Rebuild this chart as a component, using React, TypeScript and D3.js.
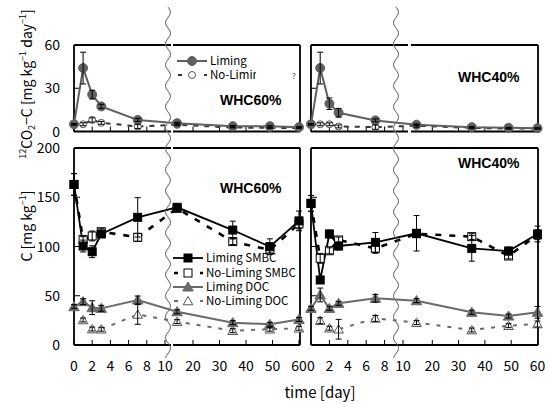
import React from 'react';
import * as d3 from 'd3';

// sampling days
const days = [0, 1, 2, 3, 7, 14, 35, 49, 60];

// 12CO2-C release [mg kg-1 day-1]
const co2Lim60 = [5, 44, 25.6, 17.4, 8, 5.8, 3.7, 3.7, 3];
const co2Lim60Err = [0.5, 11, 3, 1.5, 1, 0.5, 0.5, 0.5, 0.5];
const co2NoLim60 = [5, 5, 8, 6, 3.5, 4.6, 2.8, 2.5, 2.5];
const co2NoLim60Err = [0.5, 1, 1.5, 1, 1.5, 0.5, 0.3, 0.3, 0.3];
const co2Lim40 = [5, 44, 19.3, 13, 7.7, 4.7, 3, 2.6, 2.3];
const co2Lim40Err = [0.5, 11, 4, 3, 1, 0.5, 0.5, 0.3, 0.3];
const co2NoLim40 = [5, 5, 5, 3.5, 3, 4, 2.5, 2, 2];
const co2NoLim40Err = [0.5, 1, 1, 1, 1.5, 1, 0.3, 0.3, 0.3];

// SMBC / DOC [mg kg-1]
const smbcLim60 = [163, 100.5, 94.7, 112.7, 129.6, 139.8, 116.7, 99.8, 126];
const smbcLim60Err = [11, 6, 6, 3, 20, 3, 9, 8, 10];
const smbcNoLim60 = [163, 107, 110.7, 115, 109.3, 138.7, 105, 96.5, 123];
const smbcNoLim60Err = [11, 3, 5, 3, 4, 3, 3, 3, 5];
const docLim60 = [38.9, 44, 37.9, 37.2, 45.7, 33.8, 22.7, 21, 26];
const docLim60Err = [2, 3, 7, 3, 4, 2, 2, 2, 2];
const docNoLim60 = [null, 25.4, 16.2, 16, 31, 23.7, 14.5, 16, 17];
const docNoLim60Err = [0, 2, 2, 2, 10, 2, 2, 2, 2];

const smbcLim40 = [143.8, 66, 112.7, 100.5, 104.2, 113.4, 98.1, 95.4, 112.7];
const smbcLim40Err = [8, 3, 4, 4, 10, 18, 13, 4, 8];
const smbcNoLim40 = [143.8, 88, 95.7, 106.6, 98.1, 113, 110, 90.4, 112];
const smbcNoLim40Err = [8, 5, 3, 3, 5, 3, 3, 3, 5];
const docLim40 = [37.2, 50.8, 37.2, 42.3, 47.4, 45, 33.2, 29.4, 33.2];
const docLim40Err = [2, 7, 2, 2, 4, 2, 2, 2, 6];
const docNoLim40 = [null, 24.7, 17, 16, 27, 22.7, 15.2, 19.6, 21.3];
const docNoLim40Err = [0, 3, 2, 10, 3, 2, 2, 2, 3];

const ticksA = [0, 2, 4, 6, 8, 10];
const ticksB = [20, 30, 40, 50, 60];
const yTicksTop = [0, 30, 60];
const yTicksBottom = [0, 50, 100, 150, 200];

const FONT = '"Noto Sans CJK JP", "DejaVu Sans", sans-serif';
const GRAY = '#5f5f5f';

type Style = {
  marker: 'circle' | 'square' | 'triangle';
  filled: boolean;
  color: string;
  width: number;
  dash?: string;
};

const styles: Record<string, Style> = {
  co2Lim: { marker: 'circle', filled: true, color: GRAY, width: 2 },
  co2NoLim: { marker: 'circle', filled: false, color: '#333', width: 2, dash: '5,6' },
  smbcLim: { marker: 'square', filled: true, color: '#000', width: 1.8 },
  smbcNoLim: { marker: 'square', filled: false, color: '#000', width: 2.6, dash: '6,8' },
  docLim: { marker: 'triangle', filled: true, color: '#6a6a6a', width: 2 },
  docNoLim: { marker: 'triangle', filled: false, color: '#6a6a6a', width: 2, dash: '4,7' },
};

function Marker({ x, y, s }: { x: number; y: number; s: Style }) {
  const fill = s.filled ? s.color : '#fff';
  const stroke = s.filled ? s.color : s.color === '#000' ? '#000' : '#555';
  if (s.marker === 'circle') return <circle cx={x} cy={y} r={s.filled ? 4.5 : 3.5} fill={fill} stroke={stroke} strokeWidth={1} />;
  if (s.marker === 'square') return <rect x={x - 4} y={y - 4} width={8} height={8} fill={fill} stroke={stroke} strokeWidth={1} />;
  const sym = d3.symbol().type(d3.symbolTriangle).size(s.filled ? 48 : 40)();
  return <path d={sym || ''} transform={`translate(${x},${y + 1})`} fill={fill} stroke={stroke} strokeWidth={1} />;
}

type Series = { vals: (number | null)[]; err: number[]; style: Style };

function Panel({ xA, xB, frameA, frameB, yDomain, yRange, yTicks, series, title, titleY, showYLabels, showXLabels, gap, waveX }: any) {
  const sA = d3.scaleLinear().domain([0, 10]).range(xA);
  const sB = d3.scaleLinear().domain([10, 60]).range(xB);
  const x = (d: number) => (d <= 10 ? sA(d) : sB(d));
  const y = d3.scaleLinear().domain(yDomain).range(yRange);
  const top = yRange[1];
  const bottom = yRange[0];
  const line = d3
    .line<[number, number | null]>()
    .defined((d) => d[1] != null)
    .x((d) => x(d[0]))
    .y((d) => y(d[1] as number));

  const wave = d3.line<number>().x((t) => waveX + 2.5 * Math.sin((2 * Math.PI * (t - 7)) / 21)).y((t) => t)(d3.range(7, 359, 1));

  return (
    <g>
      {/* frame */}
      <g stroke="#000" strokeWidth={1.8} fill="none">
        <line x1={frameA[0]} x2={frameA[0]} y1={top} y2={bottom} />
        <line x1={frameB[1]} x2={frameB[1]} y1={top} y2={bottom} />
        <line x1={frameA[0]} x2={gap ? frameA[1] : frameB[1]} y1={top} y2={top} />
        <line x1={frameA[0]} x2={gap ? frameA[1] : frameB[1]} y1={bottom} y2={bottom} />
        {gap && <line x1={frameB[0]} x2={frameB[1]} y1={top} y2={top} />}
        {gap && <line x1={frameB[0]} x2={frameB[1]} y1={bottom} y2={bottom} />}
      </g>
      {/* x ticks */}
      <g stroke="#000" strokeWidth={1}>
        {ticksA.map((t) => <line key={'a' + t} x1={sA(t)} x2={sA(t)} y1={bottom} y2={bottom - 5} />)}
        {ticksB.map((t) => <line key={'b' + t} x1={sB(t)} x2={sB(t)} y1={bottom} y2={bottom - 5} />)}
        {yTicks.map((t: number) => <line key={'y' + t} x1={frameA[0]} x2={frameA[0] + 6} y1={y(t)} y2={y(t)} />)}
      </g>
      {showYLabels &&
        yTicks.map((t: number) => (
          <text key={'yl' + t} x={frameA[0] - 14} y={y(t) + 5} textAnchor="end" fontFamily={FONT} fontSize={14}>
            {t}
          </text>
        ))}
      {showXLabels && (
        <g fontFamily={FONT} fontSize={14} textAnchor="middle">
          {ticksA.map((t) => <text key={'xa' + t} x={sA(t)} y={371}>{t}</text>)}
          {ticksB.map((t) => <text key={'xb' + t} x={sB(t)} y={371}>{t}</text>)}
        </g>
      )}
      {/* lines */}
      {series.map((s: Series, i: number) => (
        <path
          key={'l' + i}
          d={line(days.map((d, j) => [d, s.vals[j]] as [number, number | null])) || ''}
          fill="none"
          stroke={s.style.color}
          strokeWidth={s.style.width}
          strokeDasharray={s.style.dash}
        />
      ))}
      {/* markers */}
      {series.map((s: Series, i: number) =>
        days.map((d, j) => (s.vals[j] == null ? null : <Marker key={`m${i}-${j}`} x={x(d)} y={y(s.vals[j] as number)} s={s.style} />))
      )}
      {/* error bars */}
      <g stroke="#000" strokeWidth={1}>
        {series.map((s: Series, i: number) =>
          days.map((d, j) => {
            const v = s.vals[j];
            if (v == null) return null;
            const cx = x(d);
            const y1 = y(v + s.err[j]);
            const y2 = y(v - s.err[j]);
            return (
              <g key={`e${i}-${j}`}>
                <line x1={cx} x2={cx} y1={y1} y2={y2} />
                <line x1={cx - 3} x2={cx + 3} y1={y1} y2={y1} />
                <line x1={cx - 3} x2={cx + 3} y1={y2} y2={y2} />
              </g>
            );
          })
        )}
      </g>
      <text x={frameB[1] - 80} y={titleY} fontFamily='"Liberation Sans", Arial, sans-serif' fontWeight="bold" fontSize={14}>
        {title}
      </text>
      {/* axis break */}
      <path d={wave || ''} fill="none" stroke="#777" strokeWidth={0.8} />
    </g>
  );
}

function LegendRow({ x, y, s, label }: { x: number; y: number; s: Style; label: string }) {
  return (
    <g>
      <line x1={x} x2={x + 30} y1={y} y2={y} stroke={s.color} strokeWidth={s.width} strokeDasharray={s.dash ? '4,9' : undefined} strokeDashoffset={s.dash ? -1 : 0} />
      <Marker x={x + 15} y={y} s={s} />
      <text x={x + 33} y={y + 4} fontFamily={FONT} fontSize={11.5}>
        {label}
      </text>
    </g>
  );
}

export default function App() {
  const yTopDomain = [0, 60];
  const yTopRange = [131.5, 45];
  const yBotDomain = [0, 200];
  const yBotRange = [345, 148];

  const left = { xA: [74, 165], xB: [166.5, 299], frameA: [74, 171], frameB: [173, 300], waveX: 168 };
  const right = { xA: [311, 403], xB: [406, 537.5], frameA: [311, 408], frameB: [411, 538], waveX: 396 };

  return (
    <div style={{ position: 'absolute', left: 0, top: 0 }}>
      <svg width={548} height={404} style={{ display: 'block', background: '#fff' }}>
        <Panel
          {...left}
          gap
          yDomain={yTopDomain}
          yRange={yTopRange}
          yTicks={yTicksTop}
          showYLabels
          title="WHC60%"
          titleY={105}
          series={[
            { vals: co2NoLim60, err: co2NoLim60Err, style: styles.co2NoLim },
            { vals: co2Lim60, err: co2Lim60Err, style: styles.co2Lim },
          ]}
        />
        <Panel
          {...right}
          gap
          yDomain={yTopDomain}
          yRange={yTopRange}
          yTicks={yTicksTop}
          title="WHC40%"
          titleY={82}
          series={[
            { vals: co2NoLim40, err: co2NoLim40Err, style: styles.co2NoLim },
            { vals: co2Lim40, err: co2Lim40Err, style: styles.co2Lim },
          ]}
        />
        <Panel
          {...left}
          gap
          yDomain={yBotDomain}
          yRange={yBotRange}
          yTicks={yTicksBottom}
          showYLabels
          showXLabels
          title="WHC60%"
          titleY={193}
          series={[
            { vals: smbcNoLim60, err: smbcNoLim60Err, style: styles.smbcNoLim },
            { vals: smbcLim60, err: smbcLim60Err, style: styles.smbcLim },
            { vals: docNoLim60, err: docNoLim60Err, style: styles.docNoLim },
            { vals: docLim60, err: docLim60Err, style: styles.docLim },
          ]}
        />
        <Panel
          {...right}
          frameA={[311, 406]}
          frameB={[406, 538]}
          yDomain={yBotDomain}
          yRange={yBotRange}
          yTicks={yTicksBottom}
          showXLabels
          title="WHC40%"
          titleY={168}
          series={[
            { vals: smbcNoLim40, err: smbcNoLim40Err, style: styles.smbcNoLim },
            { vals: smbcLim40, err: smbcLim40Err, style: styles.smbcLim },
            { vals: docNoLim40, err: docNoLim40Err, style: styles.docNoLim },
            { vals: docLim40, err: docLim40Err, style: styles.docLim },
          ]}
        />

        {/* legend, top-left */}
        <defs>
          <clipPath id="clipNoLim">
            <rect x={170} y={66} width={86} height={18} />
          </clipPath>
        </defs>
        <LegendRow x={177} y={61} s={styles.co2Lim} label="Liming" />
        <g clipPath="url(#clipNoLim)">
          <LegendRow x={177} y={75} s={styles.co2NoLim} label="No-Liming" />
        </g>
        <text x={292} y={79} fontFamily={FONT} fontSize={8} fill="#444">?</text>

        {/* legend, bottom-left */}
        <LegendRow x={173} y={258} s={styles.smbcLim} label="Liming SMBC" />
        <LegendRow x={173} y={273} s={styles.smbcNoLim} label="No-Liming SMBC" />
        <LegendRow x={173} y={287} s={styles.docLim} label="Liming DOC" />
        <LegendRow x={173} y={301} s={styles.docNoLim} label="No-Liming DOC" />

        {/* axis titles */}
        <text transform="translate(32,84) rotate(-90)" textAnchor="middle" fontFamily={FONT} fontSize={14}>
          <tspan fontSize={9} dy={-6}>12</tspan>
          <tspan dy={6}>CO</tspan>
          <tspan fontSize={9} dy={3}>2</tspan>
          <tspan dy={-3}>−C [mg kg</tspan>
          <tspan fontSize={9} dy={-6}>−1</tspan>
          <tspan dy={6}> day</tspan>
          <tspan fontSize={9} dy={-6}>−1</tspan>
          <tspan dy={6}>]</tspan>
        </text>
        <text transform="translate(32,226) rotate(-90)" textAnchor="middle" fontFamily={FONT} fontSize={14}>
          <tspan>C [mg kg</tspan>
          <tspan fontSize={9} dy={-6}>−1</tspan>
          <tspan dy={6}>]</tspan>
        </text>
        <text x={320} y={398} textAnchor="middle" fontFamily={FONT} fontSize={15}>
          time [day]
        </text>
      </svg>
    </div>
  );
}
